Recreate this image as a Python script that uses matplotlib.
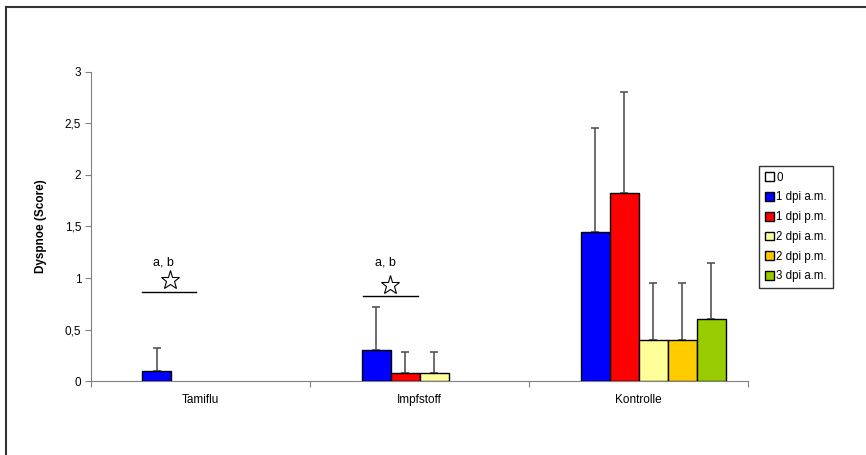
import matplotlib
matplotlib.use("Agg")
import matplotlib.pyplot as plt
from matplotlib.lines import Line2D
import numpy as np

plt.rcParams['font.family'] = ['Liberation Sans', 'DejaVu Sans']

# data
groups = ["Tamiflu", "Impfstoff", "Kontrolle"]
series = ["0", "1 dpi a.m.", "1 dpi p.m.", "2 dpi a.m.", "2 dpi p.m.", "3 dpi a.m."]
colors = ["#ffffff", "#0000ff", "#ff0000", "#ffff99", "#ffcc00", "#99cc00"]
# mean values per series (rows) and group (columns)
means = [
    [0.0, 0.0, 0.0],
    [0.10, 0.30, 1.45],
    [0.0, 0.08, 1.83],
    [0.0, 0.08, 0.40],
    [0.0, 0.0, 0.40],
    [0.0, 0.0, 0.60],
]
errors = [
    [0.0, 0.0, 0.0],
    [0.22, 0.42, 1.01],
    [0.0, 0.20, 0.98],
    [0.0, 0.20, 0.55],
    [0.0, 0.0, 0.55],
    [0.0, 0.0, 0.55],
]
yticks = [0, 0.5, 1, 1.5, 2, 2.5, 3]
yticklabels = ["0", "0,5", "1", "1,5", "2", "2,5", "3"]

# significance marks (group index offsets in data units)
sig_groups = [0, 1]
sig_line_x = [(-0.267, -0.02), (-0.258, -0.007)]
sig_line_y = [0.86, 0.825]
sig_star = [(-0.139, 0.98), (-0.135, 0.93)]
sig_text = [(-0.171, 1.15), (-0.157, 1.15)]

fig = plt.figure(figsize=(8.66, 4.55), dpi=100)
ax = fig.add_axes([0.105, 0.1626, 0.759, 0.6792])

x = np.arange(len(groups))
w = 0.1324
handles = []
for j, name in enumerate(series):
    pos = x + (j - 2.5) * w
    vals = np.array(means[j])
    errs = np.array(errors[j])
    mask = vals > 0
    ax.bar(pos[mask], vals[mask], width=w, color=colors[j],
           edgecolor="black", linewidth=1, zorder=3)
    if errs[mask].any():
        ax.errorbar(pos[mask], vals[mask], yerr=[np.zeros(mask.sum()), errs[mask]],
                    fmt="none", ecolor="#555555", elinewidth=1.2, capsize=3,
                    capthick=1.2, zorder=2)
    handles.append(plt.Rectangle((0, 0), 1, 1, facecolor=colors[j],
                                 edgecolor="black", linewidth=1))

for k, g in enumerate(sig_groups):
    x0, x1 = sig_line_x[k]
    ax.plot([g + x0, g + x1], [sig_line_y[k]] * 2, color="black", lw=1)
    ax.plot(g + sig_star[k][0], sig_star[k][1], marker="*", markersize=14,
            markerfacecolor="white", markeredgecolor="black", markeredgewidth=0.8,
            linestyle="none")
    ax.text(g + sig_text[k][0], sig_text[k][1], "a, b", fontsize=9,
            ha="center", va="center")

ax.set_xlim(-0.5, 2.5)
ax.set_ylim(0, 3)
ax.set_yticks(yticks)
ax.set_yticklabels(yticklabels, fontsize=8.5)
ax.set_xticks([-0.5, 0.5, 1.5, 2.5])
ax.set_xticklabels([])
ax.set_xticks(x, minor=True)
ax.set_xticklabels(groups, minor=True, fontsize=8.5)
ax.tick_params(axis="x", which="minor", length=0, pad=9)
ax.tick_params(axis="x", which="major", length=4, color="#808080", direction="out")
ax.tick_params(axis="y", length=4, direction="out", color="#808080", pad=3)
ax.spines["top"].set_visible(False)
ax.spines["right"].set_visible(False)
ax.spines["left"].set_color("#808080")
ax.spines["bottom"].set_color("#808080")
ax.set_ylabel("Dyspnoe (Score)", fontsize=8.5, fontweight="bold", labelpad=13)

leg = ax.legend(handles, series, loc="upper left",
                bbox_to_anchor=(759 / 866, 1 - 166 / 455),
                bbox_transform=fig.transFigure, fontsize=8.3, frameon=True,
                fancybox=False, edgecolor="black", handlelength=0.8,
                handleheight=0.8, handletextpad=0.2, labelspacing=0.67,
                borderpad=0.5, borderaxespad=0)
leg.get_frame().set_linewidth(1)

# outer frame (only top and left edges are visible)
fig.add_artist(Line2D([6 / 866, 1], [1 - 7 / 455] * 2, color="#333333", lw=1.5,
                      transform=fig.transFigure))
fig.add_artist(Line2D([6 / 866] * 2, [0, 1 - 7 / 455], color="#333333", lw=1.5,
                      transform=fig.transFigure))

fig.savefig("out.png", dpi=100)
